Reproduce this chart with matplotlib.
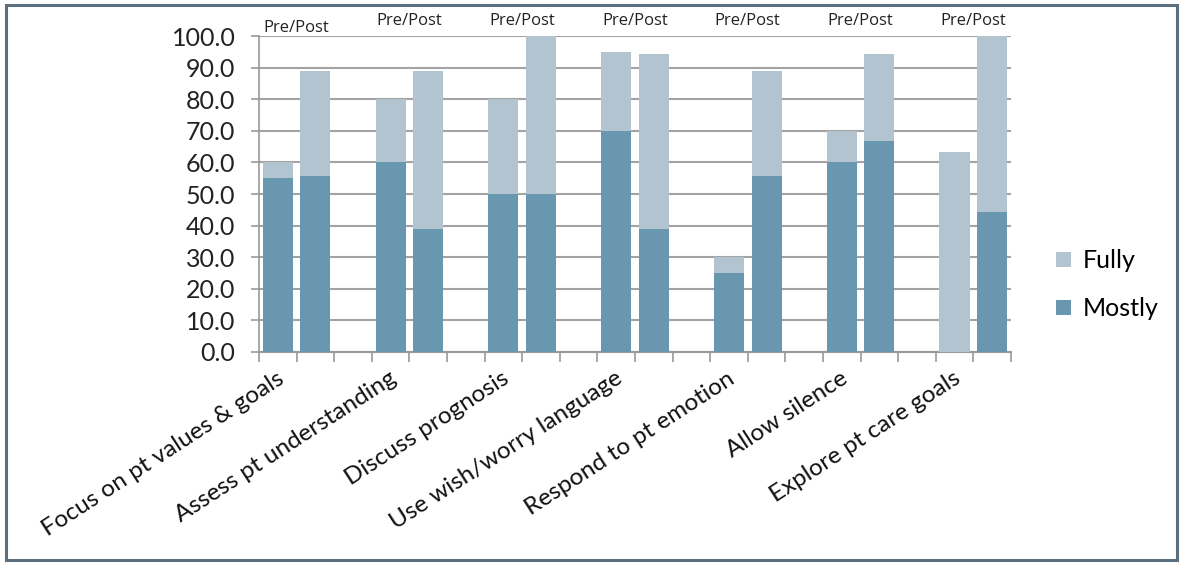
import numpy as np
import matplotlib.pyplot as plt
from matplotlib.patches import Rectangle

skills = ['Focus on pt values & goals', 'Assess pt understanding', 'Discuss prognosis',
          'Use wish/worry language', 'Respond to pt emotion', 'Allow silence',
          'Explore pt care goals']
# percent rated "mostly" and total (mostly + fully), pre and post
pre_mostly = [55.0, 60.0, 50.0, 70.0, 25.0, 60.0, 0.0]
pre_total = [60.0, 80.0, 80.0, 95.0, 30.0, 70.0, 63.3]
post_mostly = [55.6, 38.9, 50.0, 38.9, 55.6, 66.7, 44.4]
post_total = [88.9, 88.9, 100.0, 94.4, 88.9, 94.4, 100.0]

c_mostly = '#6a97b0'
c_fully = '#b1c4d0'
plt.rcParams['font.family'] = ['Lato', 'DejaVu Sans']

# bars sit in slots: pre, post, blank gap ... (20 slots)
x_pre = np.arange(len(skills)) * 3
x_post = x_pre + 1
pre_mostly = np.array(pre_mostly); post_mostly = np.array(post_mostly)
pre_fully = np.array(pre_total) - pre_mostly
post_fully = np.array(post_total) - post_mostly

fig = plt.figure(figsize=(11.83, 5.65), dpi=100)
ax = fig.add_axes([0.219, 0.377, 0.6355, 0.559])

w = 0.8
ax.bar(x_pre, pre_mostly, w, color=c_mostly, zorder=3, label='Mostly')
ax.bar(x_pre, pre_fully, w, bottom=pre_mostly, color=c_fully, zorder=3, label='Fully')
ax.bar(x_post, post_mostly, w, color=c_mostly, zorder=3)
ax.bar(x_post, post_fully, w, bottom=post_mostly, color=c_fully, zorder=3)

ax.set_xlim(-0.5, 19.5)
ax.set_ylim(0, 100)
ax.set_yticks(np.arange(0, 101, 10))
ax.set_yticklabels(['%.1f' % v for v in np.arange(0, 101, 10)], fontsize=18, color='#222222')
ax.set_xticks(np.arange(-0.5, 20, 1))
ax.set_xticklabels([])
ax.tick_params(axis='y', length=6, width=1.2, color='#9a9a9a', pad=11)
ax.tick_params(axis='x', length=7.5, width=1.2, color='#9a9a9a')
ax.grid(axis='y', color='#a3a3a3', linewidth=1.5, zorder=0)
for s in ['top', 'right']:
    ax.spines[s].set_visible(False)
ax.spines['left'].set_color('#9a9a9a')
ax.spines['left'].set_linewidth(1.2)
ax.spines['bottom'].set_color('#9a9a9a')
ax.spines['bottom'].set_linewidth(1.5)

# rotated category labels under each pre bar
for x, name in zip(x_pre, skills):
    ax.text(x - 0.05, -0.05, name, transform=ax.get_xaxis_transform(),
            ha='right', va='top', rotation=33, rotation_mode='anchor',
            fontsize=17.5, color='#111111')

# Pre/Post captions above each pair
for i, x in enumerate(x_pre):
    y = 1.025 if i == 0 else 1.048
    ax.text(x + 0.5, y, 'Pre/Post', transform=ax.get_xaxis_transform(),
            ha='center', va='center', fontsize=12, color='#222222',
            family=['Open Sans', 'DejaVu Sans'])

h, l = ax.get_legend_handles_labels()
fig.legend(h[::-1], l[::-1], loc='center left', bbox_to_anchor=(0.874, 0.496),
           frameon=False, fontsize=18, handlelength=0.6, handleheight=0.6,
           handletextpad=0.45, labelspacing=1.0)

# chart border
fig.patches.append(Rectangle((0.005, 0.008), 0.99, 0.984, transform=fig.transFigure,
                             fill=False, edgecolor='#5b6f7e', linewidth=2.2))

fig.savefig('out.png', dpi=100)
